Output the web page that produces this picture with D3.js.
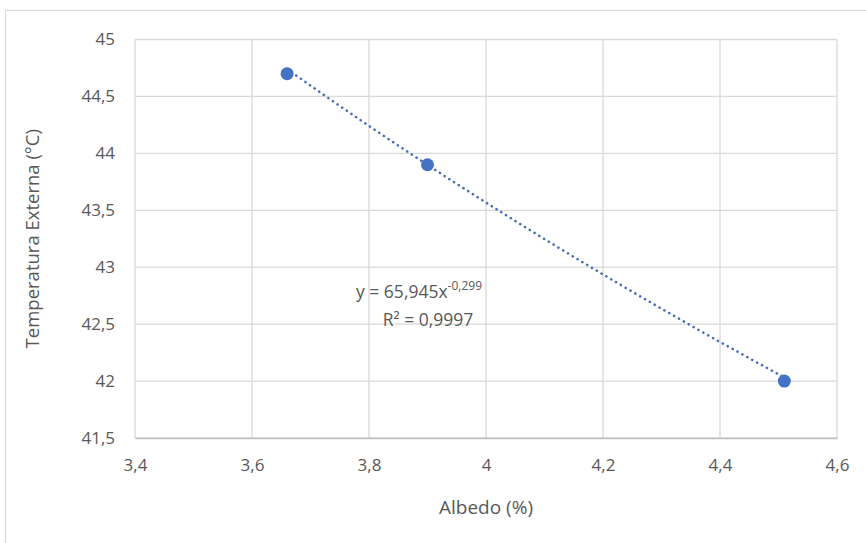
<!DOCTYPE html>
<html>
<head>
<meta charset="utf-8">
<script src="https://cdn.jsdelivr.net/npm/d3@7"></script>
<style>
  html, body { margin: 0; padding: 0; background: #fff; }
  svg { display: block; font-family: "Open Sans", "Liberation Sans", sans-serif; }
</style>
</head>
<body>
<svg id="chart" width="866" height="543"></svg>
<script>
// Measured points: albedo (%) vs external temperature (°C)
const albedo = [3.66, 3.9, 4.51];
const temperature = [44.7, 43.9, 42.0];

// Power trendline y = a * x^b
const trendA = 65.945;
const trendB = -0.299;
const trendLabel = "y = 65,945x";
const trendExp = "-0,299";
const r2Label = "R² = 0,9997";

const xTicks = [3.4, 3.6, 3.8, 4.0, 4.2, 4.4, 4.6];
const yTicks = [41.5, 42, 42.5, 43, 43.5, 44, 44.5, 45];

const xTitle = "Albedo (%)";
const yTitle = "Temperatura Externa (°C)";

const svg = d3.select("#chart");
const W = 866, H = 543;
const m = { left: 135, right: 837, top: 39.5, bottom: 438 };

const fmt = v => String(+v.toFixed(2)).replace(".", ",");

// chart area frame
svg.append("rect")
  .attr("x", 5.5).attr("y", 10.5)
  .attr("width", W + 10).attr("height", H + 10)
  .attr("fill", "#fff").attr("stroke", "#d9d9d9").attr("stroke-width", 1.2);

const x = d3.scaleLinear().domain([3.4, 4.6]).range([m.left, m.right]);
const y = d3.scaleLinear().domain([41.5, 45]).range([m.bottom, m.top]);

// gridlines
const grid = svg.append("g");
grid.selectAll(".vg").data(xTicks).join("line")
  .attr("x1", d => x(d)).attr("x2", d => x(d))
  .attr("y1", m.top).attr("y2", m.bottom)
  .attr("stroke", "#d9d9d9").attr("stroke-width", 1.3);
grid.selectAll(".hg").data(yTicks).join("line")
  .attr("x1", m.left).attr("x2", m.right)
  .attr("y1", d => y(d)).attr("y2", d => y(d))
  .attr("stroke", "#d9d9d9").attr("stroke-width", 1.3);

// axes (labels only)
const xAxis = svg.append("g")
  .attr("transform", `translate(0,${m.bottom})`)
  .call(d3.axisBottom(x).tickValues(xTicks).tickFormat(fmt).tickSize(0).tickPadding(21));
xAxis.select(".domain").attr("stroke", "#bfbfbf").attr("stroke-width", 1.3);
xAxis.selectAll("text").attr("fill", "#595959").attr("font-size", 17)
  .attr("font-family", "'Open Sans', sans-serif");

const yAxis = svg.append("g")
  .attr("transform", `translate(${m.left},0)`)
  .call(d3.axisLeft(y).tickValues(yTicks).tickFormat(fmt).tickSize(0).tickPadding(20));
yAxis.select(".domain").remove();
yAxis.selectAll("text").attr("fill", "#595959").attr("font-size", 17)
  .attr("font-family", "'Open Sans', sans-serif");

// axis titles
svg.append("text")
  .attr("x", (m.left + m.right) / 2).attr("y", 514)
  .attr("text-anchor", "middle").attr("fill", "#595959").attr("font-size", 19)
  .text(xTitle);
svg.append("text")
  .attr("transform", `translate(39,${(m.top + m.bottom) / 2}) rotate(-90)`)
  .attr("text-anchor", "middle").attr("fill", "#595959").attr("font-size", 18.5)
  .text(yTitle);

// power trendline across the data range
const xs = d3.range(0, 101).map(i => albedo[0] + (albedo[albedo.length - 1] - albedo[0]) * i / 100);
const trend = xs.map(v => [v, trendA * Math.pow(v, trendB)]);
svg.append("path")
  .datum(trend)
  .attr("fill", "none")
  .attr("stroke", "#4a6db8")
  .attr("stroke-width", 2.6)
  .attr("stroke-linecap", "round")
  .attr("stroke-dasharray", "0.1 5.5")
  .attr("d", d3.line().x(d => x(d[0])).y(d => y(d[1])));

// data points
svg.append("g").selectAll("circle")
  .data(albedo.map((a, i) => [a, temperature[i]]))
  .join("circle")
  .attr("cx", d => x(d[0])).attr("cy", d => y(d[1]))
  .attr("r", 6.5)
  .attr("fill", "#4472c4");

// trendline equation
const eq = svg.append("text")
  .attr("x", 356).attr("y", 298)
  .attr("fill", "#595959").attr("font-size", 17.5);
eq.append("tspan").text(trendLabel);
eq.append("tspan").attr("dy", -8).attr("font-size", 12).text(trendExp);
svg.append("text")
  .attr("x", 428).attr("y", 326)
  .attr("text-anchor", "middle")
  .attr("fill", "#595959").attr("font-size", 17.5)
  .text(r2Label);
</script>
</body>
</html>
